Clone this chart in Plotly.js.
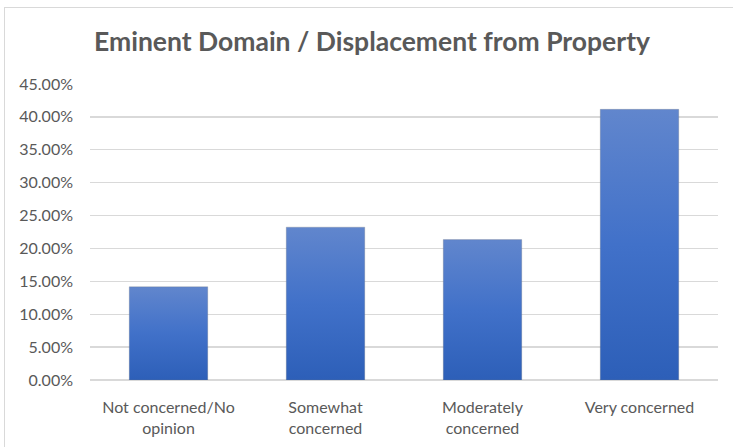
<!DOCTYPE html>
<html>
<head>
<meta charset="utf-8">
<script src="https://cdn.plot.ly/plotly-3.0.1.min.js"></script>
<style>
  html, body { margin: 0; padding: 0; background: #fff; }
  #wrap { position: relative; width: 733px; height: 447px; overflow: hidden; }
  #chart { width: 733px; height: 447px; }
  #frame { position: absolute; left: 4px; top: 7px; width: 760px; height: 480px;
           border: 1px solid #d9d9d9; pointer-events: none; box-sizing: border-box; }
</style>
</head>
<body>
<div id="wrap">
  <div id="chart"></div>
  <div id="frame"></div>
</div>
<script>
const chartTitle = "Eminent Domain / Displacement from Property";
const categories = ["Not concerned/No<br>opinion", "Somewhat<br>concerned", "Moderately<br>concerned", "Very concerned"];
const shares = [0.1418, 0.2324, 0.2135, 0.4115];
const yTickValues = [0, 0.05, 0.10, 0.15, 0.20, 0.25, 0.30, 0.35, 0.40, 0.45];

const textColor = "#595959";
const gridColor = "#d9d9d9";
const fontFamily = "Lato, 'Open Sans', 'Noto Sans', sans-serif";

const data = [{
  type: "bar",
  x: categories,
  y: shares,
  marker: { color: "#4472c4", line: { color: "rgba(120,120,120,0.25)", width: 1 } },
  hoverinfo: "skip"
}];

const layout = {
  width: 733, height: 447,
  margin: { l: 90, r: 15, t: 84, b: 66.5, pad: 0 },
  paper_bgcolor: "#ffffff",
  plot_bgcolor: "#ffffff",
  showlegend: false,
  bargap: 0.5,
  font: { family: fontFamily, color: textColor, size: 16 },
  title: {
    text: "<b>" + chartTitle + "</b>",
    font: { family: fontFamily, size: 26.5, color: textColor },
    x: 372 / 733, xanchor: "center", xref: "container",
    y: 1 - 42 / 447, yanchor: "middle", yref: "container"
  },
  xaxis: {
    type: "category",
    showgrid: false, zeroline: false, showline: false,
    ticks: "", tickfont: { family: fontFamily, size: 16, color: textColor },
    ticklabelstandoff: 16
  },
  yaxis: {
    range: [0, 0.45],
    tickvals: yTickValues,
    tickformat: ".2%",
    showgrid: true, gridcolor: gridColor, gridwidth: 1.3,
    zeroline: true, zerolinecolor: gridColor, zerolinewidth: 1.3,
    showline: false, ticks: "",
    tickfont: { family: fontFamily, size: 16, color: textColor },
    ticklabelstandoff: 16
  }
};

Plotly.newPlot("chart", data, layout, { displayModeBar: false, staticPlot: true }).then(function (gd) {
  const svg = gd.querySelector("svg.main-svg");
  const ns = "http://www.w3.org/2000/svg";
  let defs = svg.querySelector("defs");
  if (!defs) { defs = document.createElementNS(ns, "defs"); svg.insertBefore(defs, svg.firstChild); }
  const grad = document.createElementNS(ns, "linearGradient");
  grad.setAttribute("id", "barGrad");
  grad.setAttribute("x1", "0"); grad.setAttribute("y1", "0");
  grad.setAttribute("x2", "0"); grad.setAttribute("y2", "1");
  [["0%", "#6186cd"], ["50%", "#4171c9"], ["100%", "#2d5fb8"]].forEach(function (s) {
    const st = document.createElementNS(ns, "stop");
    st.setAttribute("offset", s[0]);
    st.setAttribute("stop-color", s[1]);
    grad.appendChild(st);
  });
  defs.appendChild(grad);
  gd.querySelectorAll(".barlayer .point path").forEach(function (p) {
    p.style.fill = "url(#barGrad)";
  });
});
</script>
</body>
</html>
